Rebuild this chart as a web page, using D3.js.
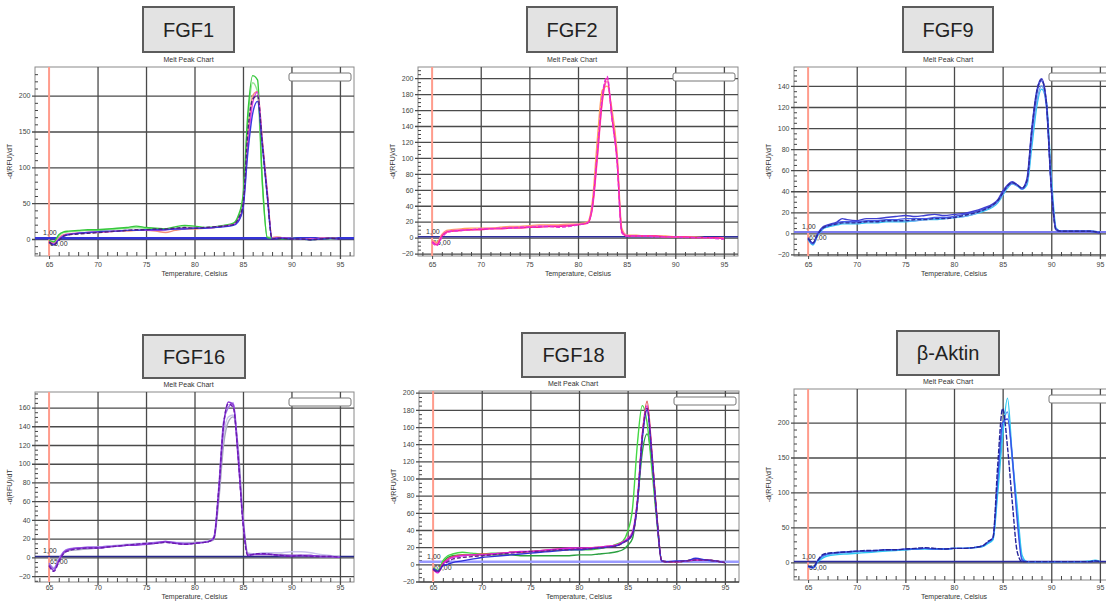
<!DOCTYPE html>
<html>
<head>
<meta charset="utf-8">
<script src="https://cdn.jsdelivr.net/npm/d3@7"></script>
<style>
  body { margin: 0; background: #fff; }
  svg { display: block; font-family: 'Liberation Sans', Arial, sans-serif; }
  .tick text { font-size: 7px; fill: #444; }
  .small { font-size: 7px; fill: #333; }
</style>
</head>
<body>
<div id="chart"></div>
<script>
// ---- data ----
const xTickLabels = [65, 70, 75, 80, 85, 90, 95];
const xGridTicks = [70, 75, 80, 85, 90, 95];

// FGF1
const fgf1Temps = [65, 65.5, 66, 66.5, 67, 68, 69, 70, 71, 72, 73, 74, 75, 76, 77, 78, 79, 80, 81, 82, 83, 84, 84.5, 85, 85.5, 86, 86.5, 87, 87.5, 88, 88.5, 89, 90, 91, 92, 93, 94, 95];
const fgf1Green = [-2, -4, 6, 10, 11, 12, 13, 13, 14, 15, 16, 18, 16, 15, 14, 17, 19, 18, 16, 17, 19, 22, 32, 60, 175, 228, 222, 80, 2, 1, 1, 0, 1, 0, -1, 0, 1, 0];
const fgf1LightGreen = [-3, -5, 4, 9, 10, 11, 12, 12, 13, 14, 15, 16, 15, 14, 14, 15, 17, 16, 15, 16, 18, 21, 30, 55, 165, 218, 205, 75, 3, 2, 1, 1, 1, 0, 0, 1, 0, 0];
const fgf1Magenta = [-4, -7, 0, 5, 7, 8, 9, 10, 10, 11, 12, 12, 12, 12, 13, 14, 15, 15, 15, 16, 18, 20, 26, 45, 130, 190, 205, 135, 65, 1, 2, 2, 1, 0, 0, 1, 1, 0];
const fgf1Salmon = [-3, -6, 1, 6, 7, 8, 9, 9, 10, 11, 11, 12, 12, 11, 9, 12, 14, 14, 15, 16, 18, 20, 25, 45, 140, 200, 206, 138, 68, 2, 3, 2, 1, 0, 0, 1, 2, 0];
const fgf1Blue = [-5, -8, -1, 4, 6, 8, 9, 10, 11, 11, 12, 12, 13, 13, 13, 14, 14, 15, 15, 16, 17, 19, 24, 42, 120, 175, 192, 130, 60, 0, 1, 1, 1, 0, -1, 0, 1, 0];
const fgf1Dark = [-4, -8, -2, 4, 6, 7, 8, 9, 10, 11, 12, 13, 13, 14, 14, 15, 16, 15, 16, 17, 18, 20, 28, 48, 150, 195, 200, 132, 62, 0, 1, 1, 0, 0, -1, 0, 1, 0];
const fgf1YTicks = [0, 50, 100, 150, 200];

// FGF2
const fgf2Temps = [65, 65.5, 66, 66.5, 67, 68, 69, 70, 71, 72, 73, 74, 75, 76, 77, 78, 79, 80, 80.5, 81, 81.5, 82, 82.5, 83, 83.5, 84, 84.5, 85, 85.5, 86, 87, 88, 89, 90, 91, 92, 93, 94, 95];
const fgf2HotPink = [-5, -9, 2, 7, 8, 9, 10, 10, 11, 11, 12, 12, 13, 13, 14, 14, 15, 16, 17, 18, 40, 105, 173, 200, 150, 100, 8, 2, 2, 2, 2, 2, 1, 1, 1, 0, 0, 0, -1];
const fgf2Magenta = [-6, -10, 0, 6, 8, 9, 10, 11, 11, 12, 12, 13, 13, 14, 14, 13, 14, 16, 17, 19, 42, 110, 178, 202, 148, 98, 6, 2, 2, 2, 2, 1, 1, 1, 0, 0, 0, -1, -2];
const fgf2Orange = [-3, -6, 4, 9, 10, 11, 12, 12, 12, 13, 14, 14, 15, 16, 16, 16, 17, 17, 18, 20, 48, 125, 185, 190, 160, 110, 12, 3, 3, 3, 2, 2, 2, 1, 1, 1, 0, 0, 0];
const fgf2Pink = [-4, -8, 3, 8, 9, 10, 10, 11, 12, 12, 13, 13, 14, 15, 15, 15, 16, 17, 17, 19, 38, 100, 170, 196, 152, 102, 9, 3, 2, 2, 2, 2, 1, 1, 1, 0, 0, 0, -1];
const fgf2YTicks = [-20, 0, 20, 40, 60, 80, 100, 120, 140, 160, 180, 200];

// FGF9
const fgf9Temps = [65, 65.5, 66, 66.5, 67, 68, 68.5, 69, 70, 71, 72, 73, 74, 75, 76, 77, 78, 79, 80, 81, 82, 83, 84, 84.5, 85, 85.5, 86, 86.5, 87, 87.5, 88, 88.5, 89, 89.5, 90, 90.5, 91, 92, 93, 94, 95];
const fgf9Navy = [-4, -9, 0, 6, 8, 11, 14, 13, 12, 14, 14, 15, 16, 17, 16, 17, 18, 17, 18, 19, 21, 24, 28, 32, 40, 46, 49, 46, 43, 52, 100, 135, 147, 125, 45, 4, 2, 2, 2, 2, 0];
const fgf9Blue = [-5, -10, -1, 5, 7, 10, 11, 11, 11, 12, 12, 13, 13, 14, 14, 14, 15, 15, 16, 18, 20, 23, 27, 31, 38, 45, 48, 46, 42, 50, 95, 132, 145, 122, 42, 3, 2, 2, 2, 2, 1];
const fgf9Cyan = [-6, -11, -2, 4, 6, 8, 9, 9, 9, 10, 10, 11, 11, 11, 12, 13, 13, 14, 15, 16, 18, 21, 25, 29, 36, 43, 47, 45, 42, 46, 82, 120, 137, 125, 55, 5, 2, 2, 2, 2, 1];
const fgf9LightBlue = [-5, -10, -1, 5, 7, 9, 10, 10, 10, 11, 11, 12, 12, 12, 12, 13, 14, 14, 15, 16, 18, 22, 26, 30, 37, 44, 47, 45, 43, 48, 90, 125, 140, 120, 48, 4, 2, 2, 2, 2, 1];
const fgf9DarkNavy = [-5, -9, -1, 5, 7, 9, 10, 10, 10, 11, 11, 12, 12, 12, 13, 13, 14, 14, 15, 17, 19, 22, 27, 31, 38, 45, 48, 46, 43, 50, 98, 134, 146, 124, 44, 3, 2, 2, 2, 2, 1];
const fgf9YTicks = [-20, 0, 20, 40, 60, 80, 100, 120, 140];

// FGF16
const fgf16Temps = [65, 65.5, 66, 66.5, 67, 68, 69, 70, 71, 72, 73, 74, 75, 76, 77, 78, 79, 80, 81, 81.5, 82, 82.5, 83, 83.5, 84, 84.5, 85, 85.5, 86, 86.5, 87, 88, 89, 90, 91, 92, 93, 94, 95];
const fgf16Purple = [-8, -14, -4, 5, 8, 10, 10, 10, 11, 12, 13, 13, 14, 15, 17, 15, 14, 15, 16, 17, 20, 70, 140, 166, 163, 105, 40, 2, 3, 3, 3, 3, 2, 2, 2, 2, 1, 1, 0];
const fgf16Violet = [-6, -12, -2, 6, 9, 10, 11, 11, 12, 12, 13, 14, 15, 16, 17, 16, 15, 15, 16, 17, 22, 75, 145, 160, 165, 112, 38, 3, 3, 4, 4, 3, 2, 2, 2, 2, 1, 1, 0];
const fgf16DarkPurple = [-9, -15, -5, 4, 7, 9, 10, 10, 11, 12, 13, 14, 15, 15, 16, 15, 14, 15, 16, 17, 21, 72, 142, 164, 160, 108, 36, 2, 3, 4, 4, 3, 2, 1, 2, 1, 1, 1, 0];
const fgf16Gray = [-7, -12, -3, 4, 7, 8, 9, 10, 11, 12, 13, 14, 14, 15, 16, 15, 15, 16, 16, 17, 19, 60, 120, 145, 150, 118, 45, 4, 3, 3, 3, 3, 3, 2, 2, 2, 1, 1, 0];
const fgf16Lavender = [-6, -11, -2, 5, 8, 9, 10, 11, 12, 13, 14, 15, 15, 16, 16, 16, 16, 16, 17, 18, 20, 65, 130, 150, 152, 115, 42, 5, 4, 4, 5, 5, 5, 6, 6, 5, 3, 2, 0];
const fgf16YTicks = [-20, 0, 20, 40, 60, 80, 100, 120, 140, 160];

// FGF18
const fgf18Temps = [65, 65.5, 66, 66.5, 67, 68, 69, 70, 71, 72, 73, 74, 75, 76, 77, 78, 79, 80, 81, 82, 83, 84, 84.5, 85, 85.5, 86, 86.5, 87, 87.5, 88, 88.5, 89, 90, 91, 92, 93, 94, 95];
const fgf18Green = [-4, -7, 4, 10, 12, 14, 13, 12, 13, 13, 14, 14, 15, 15, 16, 16, 17, 17, 17, 18, 20, 24, 27, 38, 65, 140, 185, 165, 110, 50, 4, 3, 3, 4, 5, 5, 4, 2];
const fgf18DarkGreen = [-5, -8, 2, 8, 10, 11, 11, 11, 11, 11, 11, 10, 10, 10, 10, 10, 10, 11, 11, 12, 13, 15, 17, 22, 30, 72, 130, 152, 120, 55, 4, 3, 3, 4, 5, 5, 4, 2];
const fgf18Red = [-5, -9, 1, 6, 9, 11, 11, 12, 12, 13, 14, 14, 15, 16, 17, 18, 18, 18, 19, 20, 21, 23, 26, 28, 35, 70, 150, 190, 130, 58, 4, 3, 3, 4, 5, 5, 4, 2];
const fgf18Magenta = [-6, -10, 0, 5, 8, 10, 11, 11, 12, 13, 14, 15, 15, 16, 17, 18, 19, 19, 19, 20, 21, 23, 26, 30, 38, 75, 150, 185, 128, 55, 4, 3, 3, 4, 5, 5, 4, 2];
const fgf18Blue = [-5, -8, -2, 0, 2, 4, 6, 8, 9, 10, 11, 12, 13, 14, 15, 16, 17, 17, 18, 19, 20, 22, 25, 28, 35, 70, 145, 180, 125, 55, 4, 3, 4, 4, 7, 5, 4, 2];
const fgf18Purple = [-6, -9, -1, 3, 6, 8, 9, 10, 11, 12, 13, 14, 15, 15, 16, 17, 17, 18, 18, 19, 20, 22, 25, 29, 36, 72, 148, 182, 126, 56, 4, 3, 3, 4, 5, 5, 4, 2];
const fgf18YTicks = [-20, 0, 20, 40, 60, 80, 100, 120, 140, 160, 180, 200];

// beta-Aktin
const aktinTemps = [65, 65.5, 66, 66.5, 67, 68, 69, 70, 71, 72, 73, 74, 75, 76, 77, 78, 79, 80, 81, 82, 83, 83.5, 84, 84.5, 85, 85.5, 86, 86.5, 87, 87.5, 88, 89, 90, 91, 92, 93, 94, 94.5, 95];
const aktinNavy = [-5, -7, 3, 11, 13, 14, 15, 16, 17, 17, 18, 18, 19, 20, 21, 20, 19, 20, 20, 21, 24, 30, 35, 140, 220, 165, 85, 15, 1, 1, 1, 1, 1, 1, 1, 1, 1, 2, 1];
const aktinBlue = [-6, -8, 2, 10, 12, 14, 15, 16, 16, 17, 18, 18, 19, 19, 20, 19, 19, 20, 20, 21, 24, 29, 35, 120, 200, 205, 150, 60, 3, 1, 1, 1, 1, 1, 1, 1, 1, 2, 1];
const aktinCyan = [-5, -7, 1, 6, 9, 11, 12, 13, 14, 15, 16, 17, 18, 19, 19, 19, 19, 20, 20, 21, 23, 27, 32, 100, 180, 235, 150, 80, 10, 1, 1, 1, 1, 1, 1, 1, 2, 3, 1];
const aktinLightBlue = [-6, -8, 1, 8, 11, 13, 14, 15, 16, 16, 17, 18, 18, 19, 20, 19, 19, 20, 20, 21, 23, 28, 33, 110, 190, 215, 145, 70, 5, 1, 1, 1, 1, 1, 1, 1, 1, 2, 1];
const aktinYTicks = [0, 50, 100, 150, 200];

const titles = ['FGF1', 'FGF2', 'FGF9', 'FGF16', 'FGF18', 'β-Aktin'];
const thresholds = [1, 1, 1.3, 1, 3, 1];

// ---- layout ----
const xDomain = [63.55, 96.45];

const panels = [
  {temps: fgf1Temps, yTicks: fgf1YTicks, minor: 10, yDomain: [-23.7, 240],
   box: {x: 143, y: 7, w: 91, h: 45}, plot: {x: 35, y: 67, w: 319, h: 189},
   thresh: {color: '#3434d8', width: 2.5},
   series: [
     {v: fgf1LightGreen, c: '#8fe58f'}, {v: fgf1Salmon, c: '#f0907a'},
     {v: fgf1Green, c: '#36c83c'}, {v: fgf1Magenta, c: '#e23ee2'},
     {v: fgf1Blue, c: '#3a3ae0'}, {v: fgf1Dark, c: '#4a2080', dash: '4,2'}]},
  {temps: fgf2Temps, yTicks: fgf2YTicks, minor: 5, yDomain: [-23, 214],
   box: {x: 527, y: 7, w: 90, h: 45}, plot: {x: 418, y: 67, w: 320, h: 189},
   thresh: {color: '#2e2e9c', width: 1.5},
   series: [
     {v: fgf2Orange, c: '#ffa060'}, {v: fgf2Pink, c: '#ff78b8'},
     {v: fgf2HotPink, c: '#ff2090'}, {v: fgf2Magenta, c: '#e630d6', dash: '4,2'}]},
  {temps: fgf9Temps, yTicks: fgf9YTicks, minor: 5, yDomain: [-21.5, 158],
   box: {x: 903, y: 7, w: 90, h: 45}, plot: {x: 794, y: 67, w: 320, h: 189},
   thresh: {color: '#7a7af0', width: 2},
   series: [
     {v: fgf9Cyan, c: '#30c4f2'}, {v: fgf9LightBlue, c: '#70a8f0'},
     {v: fgf9Blue, c: '#4a5ae8'}, {v: fgf9Navy, c: '#4040d0'},
     {v: fgf9DarkNavy, c: '#2c2c9a', dash: '4,2'}]},
  {temps: fgf16Temps, yTicks: fgf16YTicks, minor: 5, yDomain: [-26.3, 176.6],
   box: {x: 143, y: 335, w: 102, h: 43}, plot: {x: 35, y: 392, w: 319, h: 190},
   thresh: {color: '#28288a', width: 1.5},
   series: [
     {v: fgf16Lavender, c: '#cac2ee'}, {v: fgf16Gray, c: '#a8a8c0'},
     {v: fgf16Violet, c: '#a070e8'}, {v: fgf16Purple, c: '#8c3cd8'},
     {v: fgf16DarkPurple, c: '#6a1ab0', dash: '4,2'}]},
  {temps: fgf18Temps, yTicks: fgf18YTicks, minor: 5, yDomain: [-20.6, 202],
   box: {x: 522, y: 333, w: 103, h: 44}, plot: {x: 419, y: 391, w: 320, h: 191},
   thresh: {color: '#9a9aff', width: 2.5},
   series: [
     {v: fgf18DarkGreen, c: '#2aa040'}, {v: fgf18Green, c: '#44d844'},
     {v: fgf18Red, c: '#e05050'}, {v: fgf18Magenta, c: '#e020e0'},
     {v: fgf18Blue, c: '#3030d8'}, {v: fgf18Purple, c: '#6a2090', dash: '4,2'}]},
  {temps: aktinTemps, yTicks: aktinYTicks, minor: 10, yDomain: [-25.3, 248],
   box: {x: 897, y: 331, w: 102, h: 44}, plot: {x: 794, y: 389, w: 320, h: 191},
   thresh: {color: '#2a2aa0', width: 1.5},
   series: [
     {v: aktinLightBlue, c: '#5a90f0'}, {v: aktinCyan, c: '#30c8f0'},
     {v: aktinBlue, c: '#3a50e8'}, {v: aktinNavy, c: '#24249a', dash: '5,1.5'}]}
];

const svg = d3.select('#chart')
  .append('svg')
    .attr('width', 1106)
    .attr('height', 602);

svg.append('rect').attr('width', 1106).attr('height', 602).attr('fill', '#fff');

panels.forEach(drawPanel);

function drawPanel(p, i) {
  const {x: px, y: py, w, h} = p.plot;
  const x = d3.scaleLinear().domain(xDomain).range([px, px + w]);
  const y = d3.scaleLinear().domain(p.yDomain).range([py + h, py]);
  const g = svg.append('g').attr('class', 'panel');

  // bottom text rows: axis title under the tick labels, kept inside the page
  const titleY = Math.min(py + h + 20, 599);
  const labelBase = titleY - 9;

  // title box
  g.append('rect')
    .attr('x', p.box.x).attr('y', p.box.y)
    .attr('width', p.box.w).attr('height', p.box.h)
    .attr('fill', '#e3e3e3')
    .attr('stroke', '#5c5c5c')
    .attr('stroke-width', 2);
  g.append('text')
    .attr('x', p.box.x + p.box.w / 2)
    .attr('y', p.box.y + p.box.h / 2 + 7)
    .attr('text-anchor', 'middle')
    .attr('font-size', 20)
    .attr('fill', '#222')
    .text(titles[i]);

  g.append('text')
    .attr('class', 'small')
    .attr('x', px + w / 2 - 6)
    .attr('y', py - 5)
    .attr('text-anchor', 'middle')
    .attr('font-size', 6.5)
    .text('Melt Peak Chart');

  // plot frame
  g.append('rect')
    .attr('x', px).attr('y', py).attr('width', w).attr('height', h)
    .attr('fill', '#fff')
    .attr('stroke', '#8a8a8a')
    .attr('stroke-width', 1);

  // grid
  const yGrid = g.append('g')
    .attr('transform', `translate(${px - 3},0)`)
    .call(d3.axisLeft(y).tickValues(p.yTicks).tickSize(-(w + 3)).tickFormat(''));
  const xGrid = g.append('g')
    .attr('transform', `translate(0,${py + h + 3})`)
    .call(d3.axisBottom(x).tickValues(xGridTicks).tickSize(-(h + 3)).tickFormat(''));
  [yGrid, xGrid].forEach(a => {
    a.select('.domain').remove();
    a.selectAll('line').attr('stroke', '#4a4a4a').attr('stroke-width', 1.3);
  });

  // minor ticks
  const yMinor = d3.range(Math.ceil(p.yDomain[0] / p.minor) * p.minor, p.yDomain[1], p.minor)
    .filter(v => !p.yTicks.includes(v));
  const ym = g.append('g')
    .attr('transform', `translate(${px},0)`)
    .call(d3.axisLeft(y).tickValues(yMinor).tickSize(-3).tickFormat(''));
  const xm = g.append('g')
    .attr('transform', `translate(0,${py + h})`)
    .call(d3.axisBottom(x).tickValues(d3.range(64, 97).filter(v => v % 5 !== 0)).tickSize(-4).tickFormat(''));
  [ym, xm].forEach(a => {
    a.select('.domain').remove();
    a.selectAll('line').attr('stroke', '#444').attr('stroke-width', 1);
  });

  // tick labels
  const yAx = g.append('g')
    .attr('transform', `translate(${px - 3},0)`)
    .call(d3.axisLeft(y).tickValues(p.yTicks).tickSize(0).tickPadding(1.5));
  const xAx = g.append('g')
    .attr('transform', `translate(0,${py + h + 3})`)
    .call(d3.axisBottom(x).tickValues(xTickLabels).tickSize(0).tickPadding(labelBase - (py + h + 3) - 5));
  [yAx, xAx].forEach(a => a.select('.domain').remove());
  xAx.selectAll('.tick').filter(d => d === 65)
    .append('line').attr('y1', -3).attr('y2', 0).attr('stroke', '#4a4a4a');

  // red marker at 65
  g.append('line')
    .attr('x1', x(65)).attr('x2', x(65))
    .attr('y1', py).attr('y2', py + h)
    .attr('stroke', '#ff9c8c')
    .attr('stroke-width', 2);

  // threshold line
  g.append('line')
    .attr('x1', px).attr('x2', px + w)
    .attr('y1', y(thresholds[i])).attr('y2', y(thresholds[i]))
    .attr('stroke', p.thresh.color)
    .attr('stroke-width', p.thresh.width);

  g.append('text').attr('class', 'small')
    .attr('x', x(65) - 6).attr('y', y(thresholds[i]) - 3)
    .text('1,00');
  g.append('text').attr('class', 'small')
    .attr('x', x(65) + 1).attr('y', y(thresholds[i]) + 8)
    .text('65,00');

  // curves
  const clipId = `clip${i}`;
  g.append('clipPath').attr('id', clipId)
    .append('rect').attr('x', px).attr('y', py).attr('width', w).attr('height', h);

  const line = d3.line()
    .defined(d => d[1] != null)
    .x(d => x(d[0]))
    .y(d => y(d[1]))
    .curve(d3.curveMonotoneX);

  g.append('g')
    .attr('clip-path', `url(#${clipId})`)
    .selectAll('path')
    .data(p.series)
    .enter()
    .append('path')
      .attr('d', s => line(d3.zip(p.temps, s.v)))
      .attr('fill', 'none')
      .attr('stroke', s => s.c)
      .attr('stroke-width', 1.4)
      .attr('stroke-dasharray', s => s.dash || null);

  // legend placeholder
  g.append('rect')
    .attr('x', px + w - 65).attr('y', py + 6)
    .attr('width', 62).attr('height', 8)
    .attr('rx', 2)
    .attr('fill', '#fff')
    .attr('stroke', '#777')
    .attr('stroke-width', 1);

  // axis titles
  g.append('text')
    .attr('class', 'small')
    .attr('x', px + w / 2)
    .attr('y', titleY)
    .attr('text-anchor', 'middle')
    .attr('font-size', 6.5)
    .text('Temperature, Celsius');
  g.append('text')
    .attr('class', 'small')
    .attr('transform', `translate(${px - 23},${py + h / 2}) rotate(-90)`)
    .attr('text-anchor', 'middle')
    .attr('font-size', 8)
    .text('-d(RFU)/dT');
}
</script>
</body>
</html>
